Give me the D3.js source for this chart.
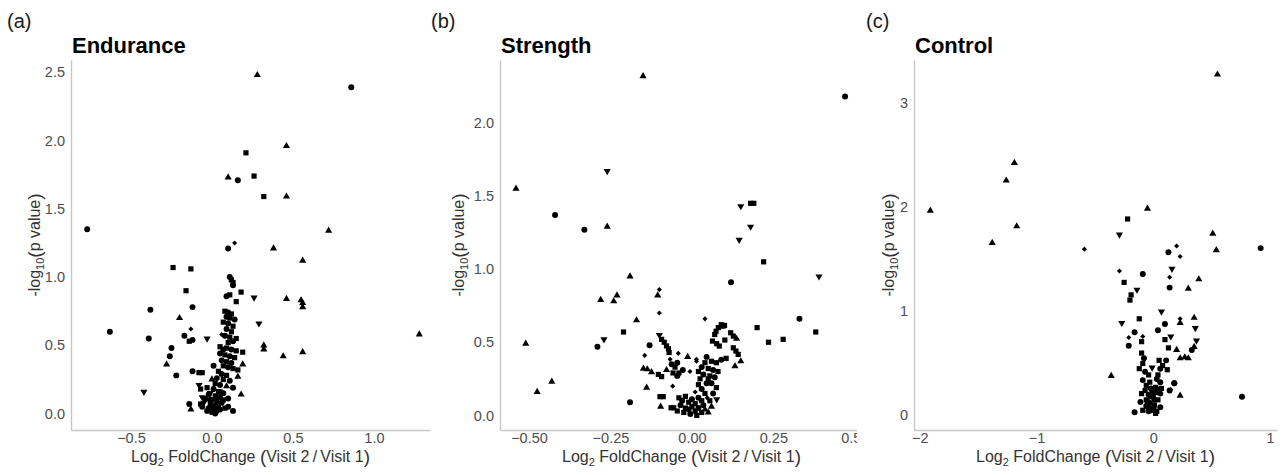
<!DOCTYPE html>
<html>
<head>
<meta charset="utf-8">
<script src="https://cdn.jsdelivr.net/npm/d3@7"></script>
<style>
  body { margin: 0; background: #fff; }
  svg { display: block; font-family: "Liberation Sans", Arial, Helvetica, sans-serif; }
  .tick text { fill: #4d4d4d; font-size: 14.5px; }
  .domain { stroke: #c6c6c6; stroke-width: 1.4; }
</style>
</head>
<body>
<svg id="chart" width="1284" height="475"></svg>
<script>
// shape codes: c circle, s square, t triangle, v triangle down, d diamond
const SHAPE_SIZE = {c: 28, s: 27, t: 22, v: 22, d: 13};

const panelTags = ["(a)", "(b)", "(c)"];
const panelTitles = ["Endurance", "Strength", "Control"];

const enduranceXTicks = [-0.5, 0, 0.5, 1];
const enduranceYTicks = [0, 0.5, 1, 1.5, 2, 2.5];
const endurancePoints = [
  [0.28, 2.48, "t"], [0.86, 2.39, "c"], [0.46, 1.96, "t"], [0.21, 1.91, "s"],
  [0.10, 1.73, "t"], [0.16, 1.71, "c"], [0.26, 1.74, "s"], [0.32, 1.59, "s"],
  [0.46, 1.59, "t"], [-0.77, 1.35, "c"], [0.72, 1.34, "t"], [0.38, 1.21, "t"],
  [0.10, 1.21, "c"], [0.14, 1.25, "d"], [0.56, 1.12, "t"], [-0.24, 1.07, "s"],
  [-0.13, 1.06, "s"], [-0.16, 0.90, "s"], [-0.12, 0.78, "c"], [-0.38, 0.76, "c"],
  [-0.20, 0.70, "t"], [-0.63, 0.60, "c"], [-0.39, 0.55, "c"], [-0.13, 0.62, "d"],
  [-0.17, 0.57, "c"], [-0.14, 0.53, "s"], [-0.12, 0.54, "c"], [-0.03, 0.55, "v"],
  [-0.25, 0.48, "c"], [-0.26, 0.42, "c"], [-0.28, 0.36, "t"], [-0.12, 0.31, "c"],
  [-0.22, 0.28, "c"], [-0.42, 0.16, "v"], [-0.08, 0.30, "s"], [-0.06, 0.30, "s"],
  [0.01, 0.35, "c"], [0.00, 0.25, "t"], [0.26, 0.85, "v"], [0.29, 0.66, "v"],
  [0.46, 0.84, "t"], [0.55, 0.83, "t"], [0.56, 0.81, "t"], [0.56, 0.78, "t"],
  [0.32, 0.50, "t"], [0.32, 0.47, "t"], [0.44, 0.42, "t"], [0.56, 0.45, "t"],
  [1.28, 0.58, "t"], [0.18, 0.89, "s"], [0.15, 0.82, "s"], [0.19, 0.45, "s"],
  [0.19, 0.36, "t"], [0.16, 0.27, "t"], [0.18, 0.14, "t"], [-0.14, 0.07, "c"],
  [-0.13, 0.03, "t"], [-0.07, 0.07, "s"], [-0.06, 0.12, "v"], [-0.08, 0.21, "v"],
  [-0.07, 0.18, "s"], [0.13, 0.02, "c"], [0.10, 0.05, "c"],
  [0.11, 1.00, "c"], [0.12, 0.98, "s"], [0.13, 0.96, "s"], [0.13, 0.94, "c"],
  [0.09, 0.86, "c"], [0.11, 0.87, "s"], [0.08, 0.75, "s"], [0.10, 0.74, "c"],
  [0.12, 0.73, "s"], [0.09, 0.71, "c"], [0.11, 0.70, "s"], [0.14, 0.69, "c"],
  [0.07, 0.67, "s"], [0.10, 0.66, "c"], [0.13, 0.64, "s"], [0.09, 0.62, "c"],
  [0.12, 0.60, "s"], [0.06, 0.58, "d"], [0.08, 0.57, "c"], [0.11, 0.56, "s"],
  [0.15, 0.55, "s"], [0.13, 0.53, "c"], [0.10, 0.52, "s"], [0.05, 0.49, "s"],
  [0.07, 0.47, "c"], [0.09, 0.48, "s"], [0.12, 0.47, "c"], [0.15, 0.46, "s"],
  [0.05, 0.44, "c"], [0.08, 0.43, "s"], [0.11, 0.42, "c"], [0.14, 0.41, "s"],
  [0.06, 0.39, "c"], [0.09, 0.38, "s"], [0.12, 0.37, "c"], [0.07, 0.35, "s"],
  [0.10, 0.34, "c"], [0.13, 0.33, "s"], [0.16, 0.32, "s"],
  [0.04, 0.31, "s"], [0.06, 0.29, "c"], [0.09, 0.28, "s"], [0.03, 0.26, "c"],
  [0.07, 0.25, "s"], [0.11, 0.24, "c"], [0.02, 0.22, "s"], [0.05, 0.21, "c"],
  [0.09, 0.20, "t"], [0.13, 0.19, "c"], [-0.03, 0.19, "s"], [0.01, 0.18, "c"],
  [0.04, 0.16, "s"], [0.07, 0.15, "c"], [-0.02, 0.14, "c"], [0.02, 0.13, "s"],
  [0.05, 0.12, "c"], [-0.04, 0.11, "s"], [0.00, 0.10, "c"], [0.03, 0.09, "s"],
  [0.06, 0.08, "c"], [-0.01, 0.07, "s"], [0.02, 0.06, "c"], [0.04, 0.05, "s"],
  [-0.02, 0.04, "c"], [0.01, 0.03, "s"], [0.03, 0.02, "c"], [0.00, 0.01, "s"],
  [-0.03, 0.02, "c"], [0.05, 0.03, "c"], [-0.05, 0.08, "v"], [0.08, 0.04, "s"],
  [0.02, 0.00, "c"], [-0.01, 0.15, "v"], [0.10, 0.11, "c"], [-0.06, 0.05, "c"],
  [0.01, 0.05, "s"], [-0.01, 0.10, "c"], [0.03, 0.12, "s"], [0.05, 0.16, "s"],
  [0.00, 0.03, "c"], [0.07, 0.10, "s"]
];

const strengthXTicks = [-0.5, -0.25, 0, 0.25, 0.5];
const strengthYTicks = [0, 0.5, 1, 1.5, 2];
const strengthPoints = [
  [-0.15, 2.32, "t"], [0.47, 2.18, "c"], [-0.26, 1.67, "v"], [-0.54, 1.55, "t"],
  [-0.42, 1.37, "c"], [-0.33, 1.27, "c"], [-0.26, 1.29, "t"], [0.15, 1.43, "v"],
  [0.18, 1.45, "s"], [0.19, 1.45, "s"], [0.18, 1.29, "v"], [0.145, 1.20, "v"],
  [0.22, 1.05, "s"], [0.39, 0.95, "v"], [0.12, 0.91, "c"], [-0.19, 0.95, "t"],
  [-0.10, 0.86, "d"], [-0.105, 0.82, "t"], [-0.28, 0.79, "t"], [-0.23, 0.82, "t"],
  [-0.24, 0.78, "t"], [-0.10, 0.70, "d"], [-0.17, 0.65, "t"], [0.04, 0.66, "d"],
  [0.33, 0.66, "c"], [-0.21, 0.57, "s"], [-0.27, 0.52, "v"], [-0.29, 0.47, "c"],
  [-0.51, 0.49, "t"], [0.20, 0.60, "s"], [0.235, 0.50, "s"], [0.28, 0.52, "s"],
  [0.38, 0.57, "s"], [-0.43, 0.23, "t"], [-0.475, 0.16, "t"], [-0.19, 0.09, "c"],
  [-0.13, 0.48, "c"], [-0.145, 0.41, "d"], [-0.10, 0.55, "v"],
  [-0.093, 0.52, "s"], [-0.085, 0.50, "s"], [-0.078, 0.475, "s"], [-0.072, 0.455, "s"],
  [-0.07, 0.43, "s"], [-0.042, 0.424, "d"], [-0.149, 0.32, "t"], [-0.137, 0.315, "t"],
  [-0.124, 0.296, "t"], [-0.013, 0.40, "t"], [-0.103, 0.28, "s"], [-0.093, 0.265, "s"],
  [-0.078, 0.31, "t"], [-0.067, 0.383, "d"], [-0.062, 0.35, "c"], [-0.052, 0.33, "s"],
  [-0.045, 0.36, "c"], [-0.058, 0.29, "s"], [-0.04, 0.29, "s"], [-0.028, 0.31, "c"],
  [-0.045, 0.27, "c"], [-0.006, 0.30, "d"], [0.014, 0.383, "d"], [-0.139, 0.19, "t"],
  [-0.059, 0.20, "d"], [-0.098, 0.128, "s"], [-0.088, 0.128, "s"], [-0.096, 0.06, "t"],
  [-0.064, 0.052, "s"], [-0.056, 0.052, "s"],
  [-0.04, 0.12, "s"], [-0.03, 0.10, "c"], [-0.02, 0.13, "s"], [-0.01, 0.09, "s"],
  [0.00, 0.11, "c"], [0.01, 0.08, "s"], [0.02, 0.12, "c"], [0.03, 0.10, "s"],
  [-0.035, 0.07, "c"], [-0.02, 0.05, "s"], [-0.01, 0.04, "c"], [0.00, 0.06, "s"],
  [0.01, 0.03, "s"], [0.02, 0.05, "c"], [0.03, 0.02, "s"], [0.04, 0.04, "t"],
  [-0.025, 0.02, "s"], [-0.005, 0.01, "c"], [0.015, 0.00, "s"], [0.035, 0.07, "c"],
  [0.04, 0.15, "s"], [0.03, 0.18, "c"], [0.02, 0.21, "s"], [0.045, 0.22, "c"],
  [0.05, 0.25, "s"], [0.01, 0.16, "d"], [0.05, 0.02, "t"], [-0.045, 0.03, "s"],
  [0.055, 0.10, "s"], [0.06, 0.06, "t"],
  [0.09, 0.62, "s"], [0.081, 0.60, "s"], [0.074, 0.575, "s"], [0.07, 0.553, "s"],
  [0.095, 0.61, "s"], [0.10, 0.615, "s"], [0.063, 0.508, "s"], [0.076, 0.49, "s"],
  [0.084, 0.474, "s"], [0.101, 0.515, "s"], [0.119, 0.565, "s"], [0.127, 0.542, "s"],
  [0.137, 0.524, "t"], [0.127, 0.462, "s"], [0.135, 0.44, "s"], [0.142, 0.417, "s"],
  [0.15, 0.37, "t"], [0.132, 0.337, "t"], [0.105, 0.39, "s"], [0.09, 0.38, "c"],
  [0.075, 0.36, "s"], [0.06, 0.37, "s"], [0.045, 0.40, "c"], [0.04, 0.36, "s"],
  [0.03, 0.33, "c"], [0.05, 0.32, "s"], [0.065, 0.31, "c"], [0.08, 0.30, "s"],
  [0.02, 0.30, "s"], [0.014, 0.37, "d"], [0.035, 0.28, "c"], [0.055, 0.27, "s"],
  [0.07, 0.26, "c"], [0.025, 0.25, "s"], [0.06, 0.22, "c"], [0.075, 0.19, "s"],
  [0.065, 0.15, "c"], [0.047, 0.12, "d"], [0.076, 0.11, "v"]
];

const controlXTicks = [-2, -1, 0, 1];
const controlYTicks = [0, 1, 2, 3];
const controlPoints = [
  [0.55, 3.27, "t"], [-1.19, 2.42, "t"], [-1.26, 2.25, "t"], [-1.91, 1.96, "t"],
  [-1.17, 1.81, "t"], [-1.38, 1.65, "t"], [-0.05, 1.98, "t"], [-0.22, 1.88, "s"],
  [-0.29, 1.73, "v"], [-0.59, 1.59, "d"], [0.51, 1.74, "t"], [0.54, 1.58, "t"],
  [0.92, 1.60, "c"], [0.13, 1.56, "c"], [0.20, 1.62, "d"], [0.23, 1.52, "d"],
  [-0.29, 1.38, "d"], [-0.09, 1.35, "c"], [0.16, 1.40, "v"], [0.14, 1.32, "d"],
  [0.14, 1.22, "c"], [-0.25, 1.27, "s"], [-0.14, 1.20, "v"], [0.39, 1.30, "t"],
  [0.30, 1.21, "t"], [-0.19, 1.15, "s"], [-0.20, 1.10, "s"], [-0.12, 0.92, "s"],
  [-0.27, 0.88, "v"], [0.07, 0.99, "v"], [0.10, 0.87, "c"], [0.04, 0.81, "c"],
  [0.23, 0.92, "d"], [0.23, 0.88, "t"], [0.35, 0.93, "t"], [0.36, 0.83, "v"],
  [0.37, 0.71, "v"], [0.35, 0.65, "t"], [0.33, 0.62, "c"], [-0.16, 0.79, "c"],
  [-0.21, 0.74, "d"], [-0.21, 0.66, "c"], [-0.09, 0.75, "d"], [-0.10, 0.70, "s"],
  [0.10, 0.72, "s"], [0.15, 0.75, "v"], [0.13, 0.64, "s"], [0.20, 0.62, "t"],
  [0.23, 0.54, "t"], [0.27, 0.55, "t"], [0.30, 0.54, "t"], [-0.36, 0.37, "t"],
  [0.76, 0.17, "c"], [-0.16, 0.02, "c"], [0.23, 0.18, "t"], [0.18, 0.30, "c"],
  [0.15, 0.24, "d"],
  [-0.10, 0.59, "s"], [-0.08, 0.54, "c"], [-0.09, 0.49, "s"], [-0.12, 0.44, "s"],
  [-0.07, 0.41, "c"], [-0.04, 0.38, "s"], [-0.09, 0.33, "c"], [-0.06, 0.28, "s"],
  [-0.02, 0.25, "c"], [-0.07, 0.23, "s"], [-0.04, 0.19, "c"], [0.00, 0.17, "s"],
  [-0.06, 0.14, "s"], [-0.03, 0.11, "c"], [0.01, 0.09, "s"], [-0.02, 0.04, "c"],
  [0.03, 0.03, "s"], [0.06, 0.07, "c"], [0.04, 0.14, "s"], [0.06, 0.20, "c"],
  [0.07, 0.25, "s"], [0.06, 0.31, "c"], [0.04, 0.38, "s"], [0.06, 0.44, "c"],
  [0.08, 0.47, "s"], [0.11, 0.52, "c"], [0.05, 0.52, "s"], [0.12, 0.43, "s"],
  [0.14, 0.23, "c"], [0.18, 0.30, "c"], [-0.09, 0.04, "s"], [-0.04, 0.03, "c"],
  [-0.05, 0.12, "s"], [-0.01, 0.21, "c"], [0.02, 0.26, "s"], [-0.03, 0.31, "s"],
  [0.00, 0.06, "c"], [0.02, 0.01, "s"], [-0.06, 0.08, "c"], [0.05, 0.24, "c"],
  [-0.10, 0.20, "s"], [-0.11, 0.12, "c"], [0.03, 0.34, "c"], [-0.01, 0.45, "v"],
  [-0.04, 0.07, "s"], [0.01, 0.14, "c"], [-0.02, 0.17, "s"], [0.03, 0.21, "s"]
];

const panels = [
  {tag: panelTags[0], title: panelTitles[0], points: endurancePoints,
    xTicks: enduranceXTicks, yTicks: enduranceYTicks, xFormat: ".1f", yFormat: ".1f",
    xDomain: [-0.87, 1.346], yDomain: [-0.12, 2.59],
    left: 71, right: 430, tagX: 7, yLabelX: 36},
  {tag: panelTags[1], title: panelTitles[1], points: strengthPoints,
    xTicks: strengthXTicks, yTicks: strengthYTicks, xFormat: ".2f", yFormat: ".1f",
    xDomain: [-0.589, 0.525], yDomain: [-0.1, 2.43],
    left: 500, right: 863, tagX: 431, yLabelX: 460},
  {tag: panelTags[2], title: panelTitles[2], points: controlPoints,
    xTicks: controlXTicks, yTicks: controlYTicks, xFormat: "d", yFormat: "d",
    xDomain: [-2.05, 1.06], yDomain: [-0.15, 3.41],
    left: 914, right: 1277, tagX: 866, yLabelX: 890, backgroundFrom: 857}
];

const PLOT_TOP = 60;
const PLOT_BOTTOM = 430;

const svg = d3.select("#chart");

/**
 * Draw one volcano panel with its axes, labels and points.
 */
function drawPanel(panel) {
  const g = svg.append("g");

  // the right panel sits on top of its neighbour and hides its overflow
  if (panel.backgroundFrom !== undefined) {
    g.append("rect")
      .attr("x", panel.backgroundFrom)
      .attr("y", 0)
      .attr("width", 1284 - panel.backgroundFrom)
      .attr("height", 475)
      .attr("fill", "#fff");
  }

  const x = d3.scaleLinear().domain(panel.xDomain).range([panel.left, panel.right]);
  const y = d3.scaleLinear().domain(panel.yDomain).range([PLOT_BOTTOM, PLOT_TOP]);

  g.append("g")
    .attr("transform", `translate(0,${PLOT_BOTTOM})`)
    .call(d3.axisBottom(x)
      .tickValues(panel.xTicks)
      .tickFormat(d3.format(panel.xFormat))
      .tickSize(0)
      .tickPadding(3));

  g.append("g")
    .attr("transform", `translate(${panel.left},0)`)
    .call(d3.axisLeft(y)
      .tickValues(panel.yTicks)
      .tickFormat(d3.format(panel.yFormat))
      .tickSize(0)
      .tickPadding(6));

  g.selectAll(".tick text").attr("font-family", null);
  g.selectAll(".domain").attr("stroke", null);

  // points
  const symbolFor = {
    c: d3.symbolCircle, s: d3.symbolSquare, t: d3.symbolTriangle,
    v: d3.symbolTriangle, d: d3.symbolSquare
  };
  const rotation = {c: 0, s: 0, t: 0, v: 180, d: 45};

  g.append("g")
    .selectAll("path")
    .data(panel.points)
    .join("path")
    .attr("transform", d => `translate(${x(d[0])},${y(d[1])}) rotate(${rotation[d[2]]})`)
    .attr("d", d => d3.symbol(symbolFor[d[2]], SHAPE_SIZE[d[2]])())
    .attr("fill", "#000");

  // tag and title
  g.append("text")
    .attr("x", panel.tagX)
    .attr("y", 28)
    .attr("font-size", 20)
    .attr("fill", "#1a1a1a")
    .text(panel.tag);

  g.append("text")
    .attr("x", panel.left + 1)
    .attr("y", 53)
    .attr("font-size", 22)
    .attr("font-weight", "bold")
    .attr("fill", "#000")
    .text(panel.title);

  // x axis title
  const xt = g.append("text")
    .attr("x", (panel.left + panel.right) / 2)
    .attr("y", 462)
    .attr("text-anchor", "middle")
    .attr("font-size", 16)
    .attr("fill", "#333");
  xt.append("tspan").text("Log");
  xt.append("tspan").attr("font-size", 11).attr("dy", 4).text("2");
  xt.append("tspan").attr("dy", -4).text(" FoldChange ");
  xt.append("tspan").attr("font-size", 19).attr("dy", 1).text("(");
  xt.append("tspan").attr("dy", -1).text("Visit 2\u2009/\u2009Visit 1");
  xt.append("tspan").attr("font-size", 19).attr("dy", 1).text(")");

  // y axis title
  const yt = g.append("text")
    .attr("transform", `translate(${panel.yLabelX + 4},${(PLOT_TOP + PLOT_BOTTOM) / 2}) rotate(-90)`)
    .attr("text-anchor", "middle")
    .attr("font-size", 16)
    .attr("fill", "#333");
  yt.append("tspan").text("-log");
  yt.append("tspan").attr("font-size", 11).attr("dy", 4).text("10");
  yt.append("tspan").attr("font-size", 19).attr("dy", -3).text("(");
  yt.append("tspan").attr("dy", -1).text("p value");
  yt.append("tspan").attr("font-size", 19).attr("dy", 1).text(")");
}

panels.forEach(drawPanel);
</script>
</body>
</html>
